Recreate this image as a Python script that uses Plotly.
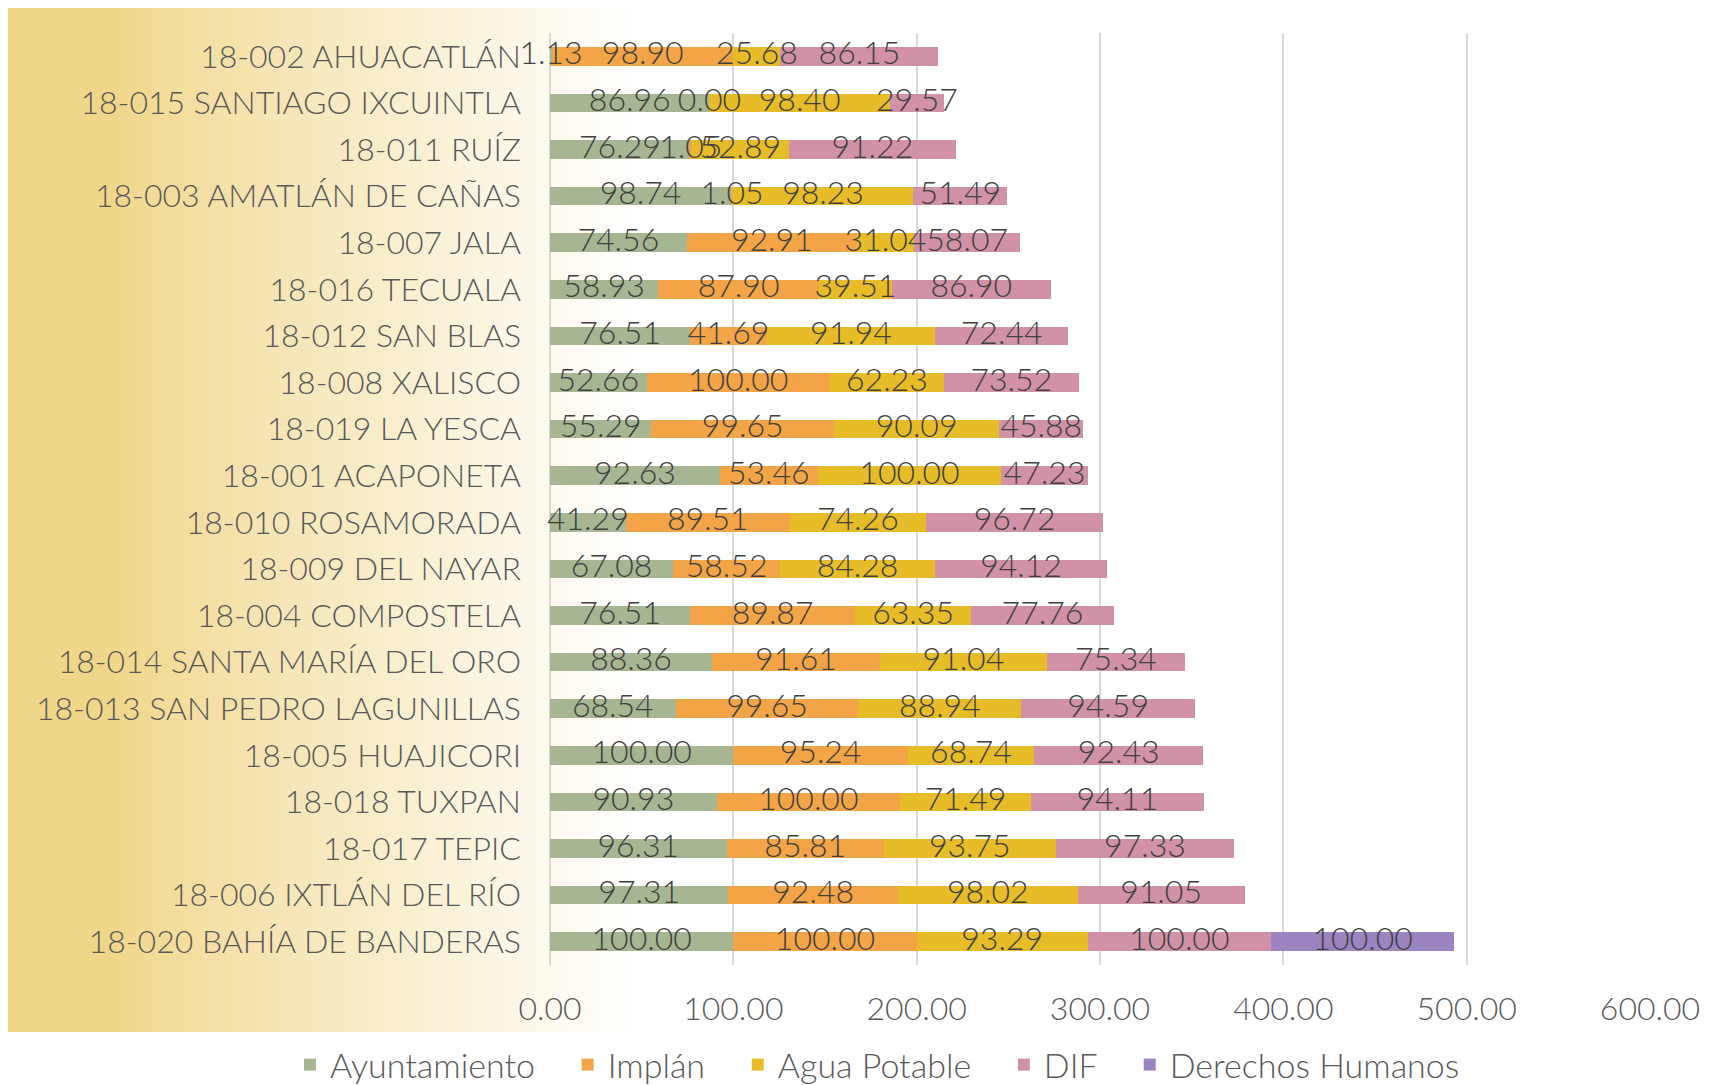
import plotly.graph_objects as go

categories = [
    "18-002 AHUACATLÁN", "18-015 SANTIAGO IXCUINTLA", "18-011 RUÍZ",
    "18-003 AMATLÁN DE CAÑAS", "18-007 JALA", "18-016 TECUALA",
    "18-012 SAN BLAS", "18-008 XALISCO", "18-019 LA YESCA",
    "18-001 ACAPONETA", "18-010 ROSAMORADA", "18-009 DEL NAYAR",
    "18-004 COMPOSTELA", "18-014 SANTA MARÍA DEL ORO",
    "18-013 SAN PEDRO LAGUNILLAS", "18-005 HUAJICORI", "18-018 TUXPAN",
    "18-017 TEPIC", "18-006 IXTLÁN DEL RÍO", "18-020 BAHÍA DE BANDERAS",
]
ayuntamiento = [1.13, 86.96, 76.29, 98.74, 74.56, 58.93, 76.51, 52.66, 55.29, 92.63,
                41.29, 67.08, 76.51, 88.36, 68.54, 100.00, 90.93, 96.31, 97.31, 100.00]
implan = [98.90, 0.00, 1.05, 1.05, 92.91, 87.90, 41.69, 100.00, 99.65, 53.46,
          89.51, 58.52, 89.87, 91.61, 99.65, 95.24, 100.00, 85.81, 92.48, 100.00]
agua_potable = [25.68, 98.40, 52.89, 98.23, 31.04, 39.51, 91.94, 62.23, 90.09, 100.00,
                74.26, 84.28, 63.35, 91.04, 88.94, 68.74, 71.49, 93.75, 98.02, 93.29]
dif = [86.15, 29.57, 91.22, 51.49, 58.07, 86.90, 72.44, 73.52, 45.88, 47.23,
       96.72, 94.12, 77.76, 75.34, 94.59, 92.43, 94.11, 97.33, 91.05, 100.00]
derechos_humanos = [None] * 19 + [100.00]

series_names = ["Ayuntamiento", "Implán", "Agua Potable", "DIF", "Derechos Humanos"]
series_values = [ayuntamiento, implan, agua_potable, dif, derechos_humanos]
colors = ["#A6B693", "#F3A447", "#E6BC28", "#D192A7", "#9C84C0"]
tick_vals = [0, 100, 200, 300, 400, 500, 600]
tick_text = ["0.00", "100.00", "200.00", "300.00", "400.00", "500.00", "600.00"]

FONT = "Lato"
FS = 32
FW = 300
# page content is offset by the default 8px body margin
W, H = 1698, 1077
L, R, T, B = 542, 56, 25, 120
PW, PH = W - L - R, H - T - B

fig = go.Figure()
pad = "\u00a0" * 3
for k, (name, vals, col) in enumerate(zip(series_names, series_values, colors)):
    fig.add_trace(go.Bar(
        y=categories, x=vals, name=name + (pad if k < len(series_names) - 1 else ""),
        orientation="h",
        marker=dict(color=col, line=dict(width=0)),
        hovertemplate=name + ": %{x:.2f}<extra>%{y}</extra>",
    ))

# data labels centred on each stacked segment
base = [0.0] * len(categories)
for vals in series_values:
    xs, ys, ts = [], [], []
    for i, v in enumerate(vals):
        if v is None:
            continue
        xs.append(base[i] + v / 2.0)
        ys.append(categories[i])
        ts.append(f"{v:.2f}")
        base[i] += v
    fig.add_trace(go.Scatter(
        x=xs, y=ys, text=ts, mode="text", textposition="middle center",
        textfont=dict(family=FONT, size=FS, color="#404040", weight=FW),
        showlegend=False, hoverinfo="skip", cliponaxis=False,
    ))

def px_to_paper_x(px):
    return (px - L) / PW

def px_to_paper_y(py):
    return (H - B - py) / PH

def lerp(a, b, t):
    return a + (b - a) * t

c0 = (0xF0, 0xD6, 0x88)
c1 = (0xFF, 0xFF, 0xFF)
shapes = []
x_left, x_full, x_end = -2, 102, 632
top, bot = -4, 1024
steps = 90
shapes.append(dict(type="rect", xref="paper", yref="paper",
                   x0=px_to_paper_x(x_left), x1=px_to_paper_x(x_full + 1),
                   y0=px_to_paper_y(bot), y1=px_to_paper_y(top),
                   fillcolor="rgb(%d,%d,%d)" % c0, line=dict(width=0), layer="below"))
for i in range(steps):
    xa = x_full + (x_end - x_full) * i / steps
    xb = x_full + (x_end - x_full) * (i + 1) / steps
    t = ((i + 0.5) / steps) ** 0.85
    c = tuple(int(round(lerp(c0[k], c1[k], t))) for k in range(3))
    shapes.append(dict(type="rect", xref="paper", yref="paper",
                       x0=px_to_paper_x(xa), x1=px_to_paper_x(xb + 0.8),
                       y0=px_to_paper_y(bot), y1=px_to_paper_y(top),
                       fillcolor="rgb(%d,%d,%d)" % c, line=dict(width=0), layer="below"))

fig.update_layout(
    width=W, height=H,
    barmode="stack", bargap=0.6,
    margin=dict(l=L, r=R, t=T, b=B, pad=0, autoexpand=False),
    paper_bgcolor="white", plot_bgcolor="rgba(0,0,0,0)",
    font=dict(family=FONT, color="#595959", size=FS, weight=FW),
    shapes=shapes,
    xaxis=dict(range=[0, 600], tickvals=tick_vals, ticktext=tick_text,
               showgrid=True, gridcolor="#D9D9D9", gridwidth=1.5,
               zeroline=True, zerolinecolor="#D9D9D9", zerolinewidth=1.5,
               showline=False, ticks="", ticklen=0, automargin=False,
               ticklabelstandoff=22,
               tickfont=dict(family=FONT, size=FS, color="#595959", weight=FW)),
    yaxis=dict(range=[len(categories) - 0.5, -0.5], showgrid=False, showline=False,
               ticks="", ticklabelstandoff=28, automargin=False,
               tickfont=dict(family=FONT, size=FS, color="#595959", weight=FW)),
    legend=dict(orientation="h", xanchor="left", yanchor="middle",
                x=px_to_paper_x(282), y=px_to_paper_y(1057),
                font=dict(family=FONT, size=34, color="#595959", weight=FW),
                bgcolor="rgba(0,0,0,0)", itemwidth=30, tracegroupgap=0,
                traceorder="normal"),
)
fig.write_html(
    "out.html",
    post_script="document.documentElement.style.overflow='hidden';"
                "document.body.style.overflow='hidden';",
)
